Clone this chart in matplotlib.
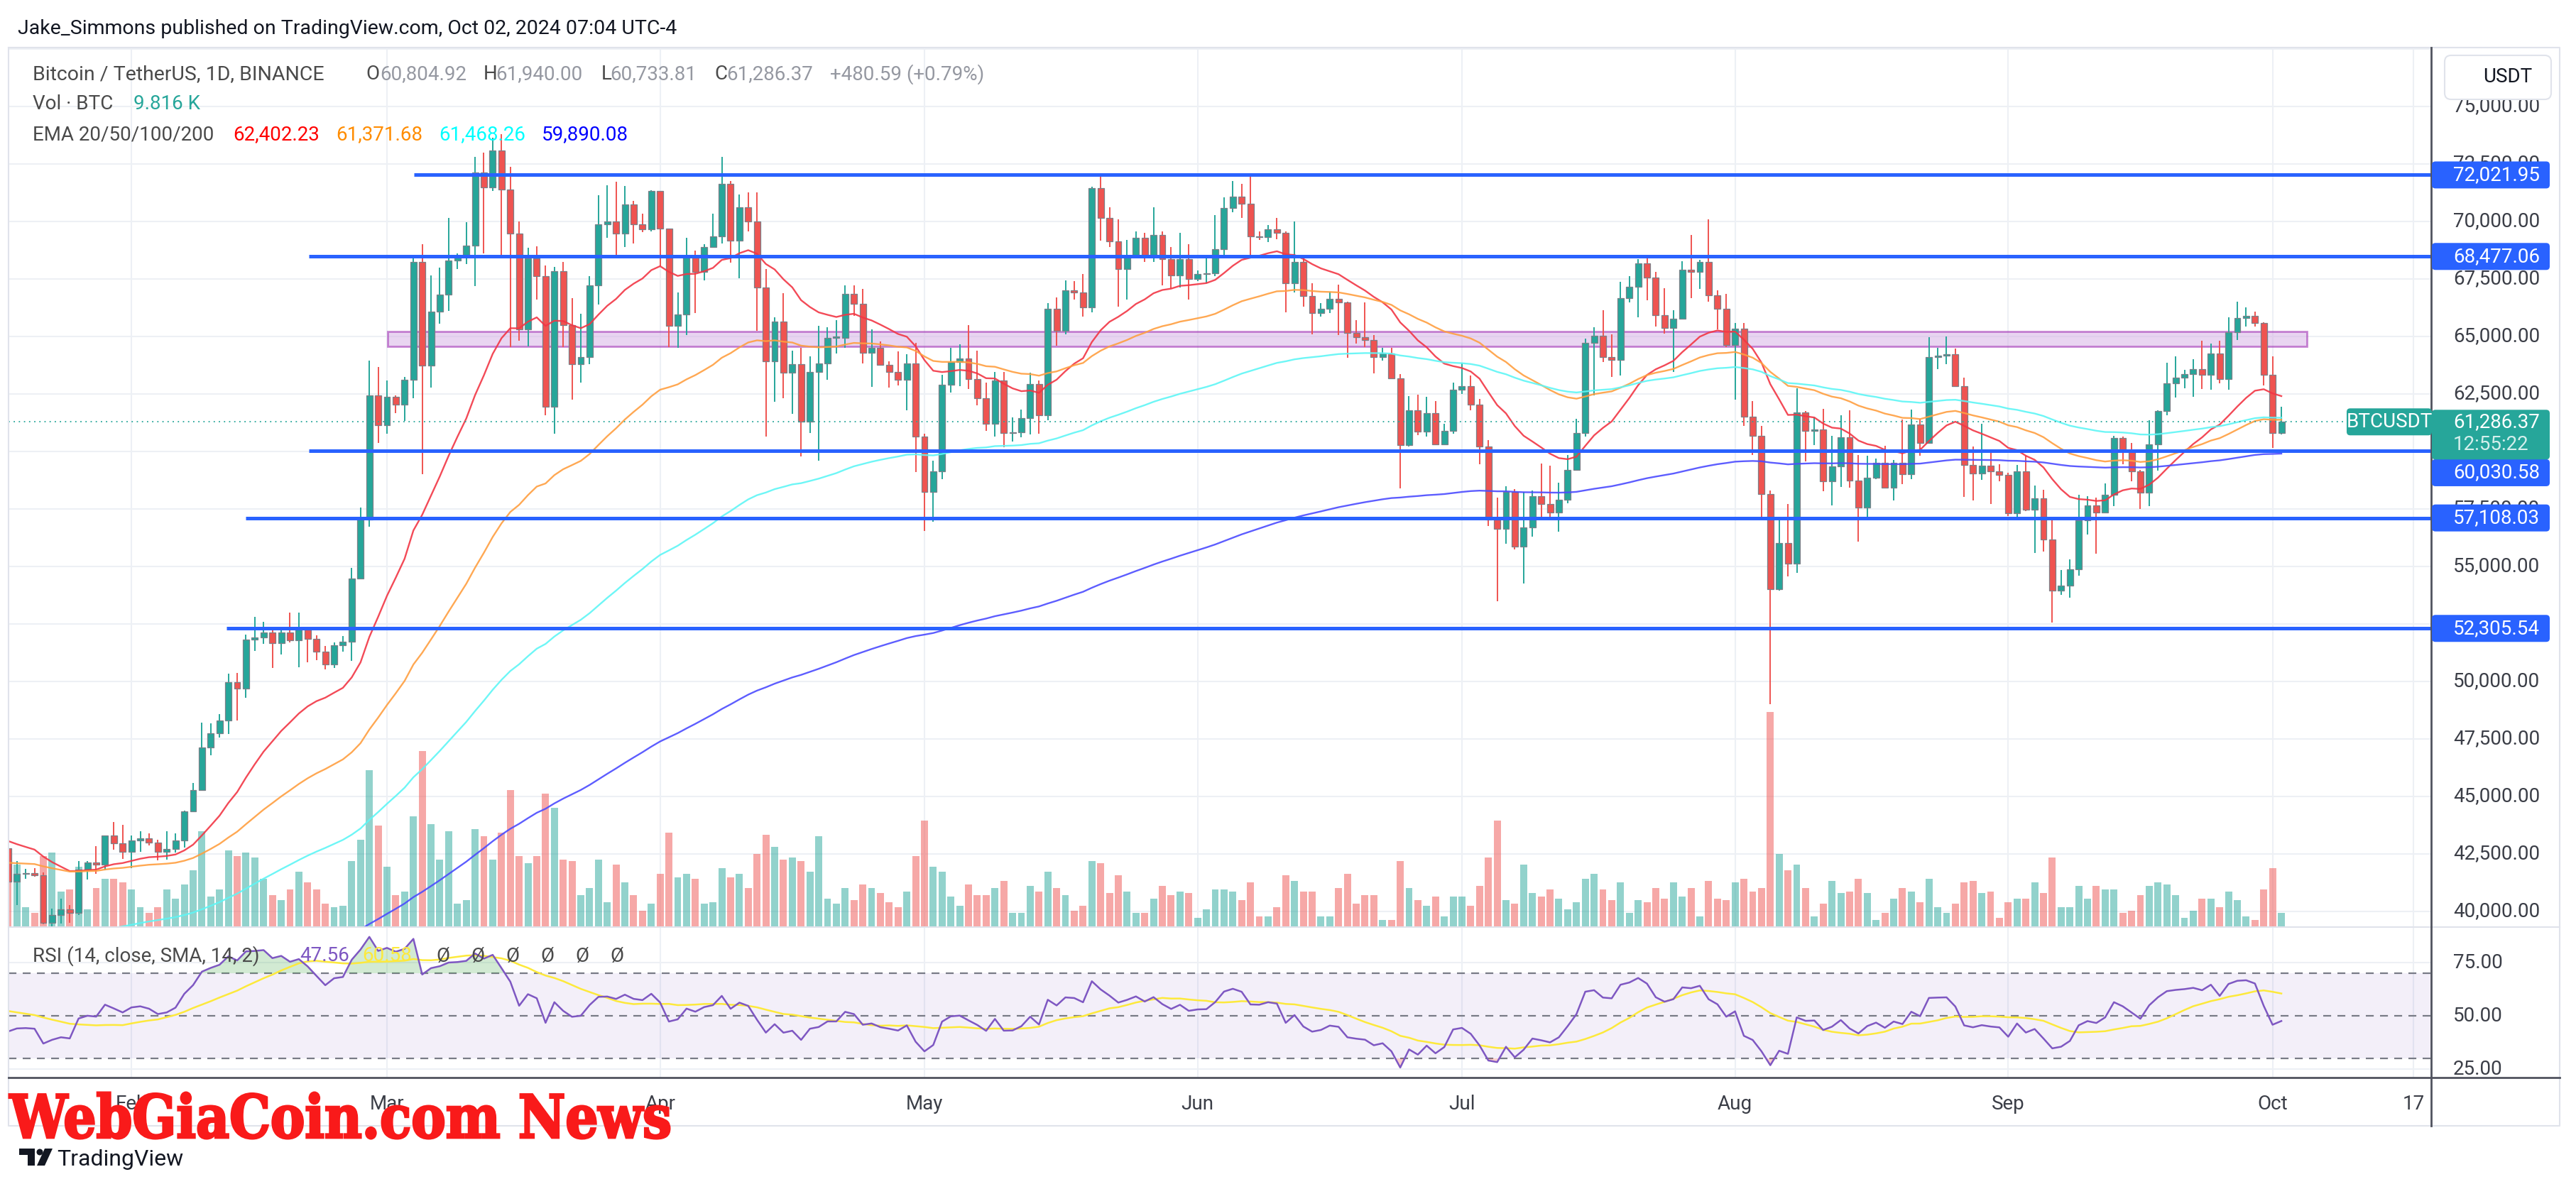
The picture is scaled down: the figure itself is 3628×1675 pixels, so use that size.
"""BTCUSDT 1D chart, TradingView style: candles, EMA 20/50/100/200, key levels, volume, RSI."""
import matplotlib
matplotlib.use('Agg')
import matplotlib.pyplot as plt
from matplotlib.patches import Rectangle, FancyBboxPatch, PathPatch, Polygon, Circle
from matplotlib.textpath import TextPath
from matplotlib.font_manager import FontProperties
from matplotlib.transforms import Affine2D
import numpy as np

W, H = 3628, 1675
UP, DOWN = '#26a69a', '#ef5350'
GRID = '#edf0f5'
FONT = ['Roboto', 'DejaVu Sans']

# ---- daily bars, Jan 18 2024 .. Oct 02 2024 (open = previous close) ----
first_open = 42740
closes = [
    # Jan 18-31
    41280, 41620, 41660, 41580, 39500, 39850, 40080, 39930, 41820, 42120, 42030, 43300, 42950, 42580,
    # Feb
    43080, 43190, 43000, 42580, 42710, 43090, 44340, 45290, 47130, 47750, 48290, 49960, 49700, 51810, 51920,
    52140, 51660, 52120, 51780, 52260, 51850, 51300, 50730, 51570, 51730, 54480, 57040, 62430, 61130,
    # Mar
    62390, 62030, 63130, 68250, 63720, 66070, 66830, 68300, 68500, 68960, 72120, 71480, 73100, 71400, 69480,
    65300, 68390, 67610, 61940, 67840, 65500, 63800, 64100, 67210, 69880, 69990, 69460, 70740, 69890, 69650, 71330,
    # Apr
    69700, 65460, 65960, 68490, 67820, 68900, 69360, 71620, 69150, 70630, 70010, 67120, 63920, 65660, 63420,
    63800, 61280, 63470, 63820, 64940, 64940, 66840, 66410, 64280, 64500, 63770, 63460, 63120, 63840, 60640,
    # May
    58250, 59120, 62890, 63890, 64030, 63160, 62310, 61190, 63070, 60790, 60820, 61450, 62930, 61580, 66210,
    65240, 67020, 66920, 66270, 71450, 70140, 69120, 67930, 68530, 69290, 68510, 69400, 68370, 67640, 68360, 67490,
    # Jun
    67710, 67750, 68800, 70570, 71080, 70760, 69340, 69310, 69650, 69510, 67320, 68240, 66750, 66010, 66190,
    66640, 66490, 65150, 64960, 64830, 64100, 64250, 63180, 60280, 61800, 60860, 61670, 60320, 60890, 62680,
    # Jul
    62850, 62030, 60200, 57040, 56640, 58230, 55850, 56700, 58050, 57720, 57330, 57890, 59200, 60800, 64720,
    65040, 64090, 63990, 66660, 67150, 68170, 67550, 65930, 65370, 65780, 67900, 67810, 68250, 66780, 66190, 64620,
    # Aug
    65350, 61500, 60690, 58160, 54020, 56030, 55120, 61710, 60880, 60950, 58710, 59350, 60610, 58740, 57560,
    58870, 59490, 58430, 59490, 59010, 61160, 60380, 64090, 64170, 64220, 62830, 59420, 59030, 59370, 59120, 58970,
    # Sep
    57300, 59130, 57480, 57970, 56160, 53950, 54160, 54880, 57020, 57650, 57340, 58130, 60570, 60000, 59130,
    58210, 60310, 61760, 62950, 63200, 63350, 63580, 63340, 64260, 63150, 65180, 65790, 65890, 65600, 63330,
    # Oct 1-2
    60804.92, 61286.37,
]
highs = [
    42930, 42200, 41860, 41870, 41700, 40130, 40550, 40280, 42200, 42200, 42840, 43300, 43880, 43750,
    43290, 43490, 43380, 43120, 43500, 43400, 44370, 45600, 48200, 48170, 48590, 50330, 50370, 52040, 52820,
    52580, 52250, 52370, 52990, 52980, 52370, 52000, 51550, 51700, 51960, 54940, 57550, 63960, 63680,
    63100, 62430, 63230, 68490, 69000, 67640, 67980, 70140, 68620, 69980, 72800, 73000, 73650, 73780, 72360,
    70000, 68850, 68920, 68100, 68030, 68240, 66650, 65980, 67620, 71150, 71560, 71730, 71550, 70900, 70350, 71370,
    71340, 69700, 66900, 69290, 68720, 69000, 70330, 72800, 71760, 71170, 71260, 71260, 67930, 65830, 66880,
    64380, 64490, 64130, 65450, 65390, 65720, 67230, 67210, 67070, 65300, 64790, 63920, 64350, 64230, 64730,
    60780, 59600, 63330, 64500, 64650, 65500, 64390, 62980, 63450, 63470, 61490, 61820, 63420, 63100, 66440,
    66700, 67450, 67400, 67700, 71500, 71980, 70620, 70080, 69200, 69570, 69520, 70610, 69560, 68900, 69500, 69000,
    67860, 68400, 70270, 71060, 71750, 71630, 71950, 69560, 69850, 70150, 69560, 69990, 68450, 67300, 66450,
    66950, 67250, 66500, 65720, 66480, 65070, 64520, 64490, 63370, 62400, 62480, 62370, 62180, 61200, 63000,
    63860, 63290, 62280, 60500, 58000, 58480, 58370, 58250, 58300, 59480, 59390, 58650, 59850, 61420, 64900,
    65390, 66130, 65100, 67390, 67630, 68370, 68480, 67800, 67100, 66140, 68260, 69400, 68320, 70080, 66990, 66860,
    65590, 65600, 62200, 61100, 58300, 57050, 57730, 62740, 61750, 61470, 61860, 60680, 61580, 61800, 59850,
    59800, 59700, 60260, 59620, 61400, 61820, 61410, 64960, 64520, 65000, 64480, 63210, 60230, 61190, 59950, 59450,
    59060, 59420, 59810, 58520, 58330, 56990, 54850, 55300, 58110, 58040, 57990, 58600, 60670, 60660, 60380,
    59210, 61350, 61790, 63870, 64130, 63560, 64000, 64820, 64690, 64810, 65840, 66500, 66260, 66080, 65620,
    64130, 61940.00,
]
lows = [
    40700, 40280, 41420, 41500, 39430, 38550, 39480, 39500, 39830, 41390, 41620, 41800, 42680, 42280,
    41880, 42580, 42880, 42220, 42260, 42570, 42790, 44330, 45240, 46800, 47560, 47700, 48300, 49290, 51330,
    51620, 50600, 51180, 51710, 50620, 50830, 50920, 50520, 50580, 51280, 50900, 54450, 56720, 60360,
    60780, 61650, 61320, 62300, 59000, 62790, 65560, 66100, 67920, 68150, 67190, 68620, 71330, 68550, 64530,
    64800, 64560, 66600, 61560, 60780, 64530, 62260, 63000, 63800, 66380, 69280, 68380, 68900, 69050, 69550, 69560,
    68060, 64540, 64490, 65060, 66010, 67450, 68850, 69040, 68210, 67520, 69560, 65250, 60660, 62160, 62300,
    61620, 59770, 60800, 59600, 63110, 64250, 64500, 65900, 63820, 62800, 63750, 62790, 62880, 61800, 59100,
    56550, 56940, 58810, 62550, 62830, 62700, 62000, 60880, 60650, 60190, 60440, 60630, 60750, 60770, 61350,
    64600, 65100, 66600, 65850, 66060, 69160, 68900, 66300, 66600, 68510, 68230, 68230, 67220, 67100, 67130, 66600,
    67400, 67320, 67610, 68500, 70390, 70150, 68500, 69200, 69100, 69230, 66050, 66900, 66300, 65080, 65850,
    66030, 65070, 64060, 64690, 64530, 63380, 63940, 63210, 58400, 60220, 60700, 60640, 60380, 60270, 60780,
    62490, 61780, 59430, 56770, 53490, 56000, 55740, 54260, 56280, 57150, 57050, 56520, 57760, 59220, 60640,
    62430, 63900, 63240, 63300, 66490, 65820, 66570, 65420, 65110, 63450, 65750, 66650, 67070, 66500, 65300, 64530,
    62250, 61110, 59850, 57120, 49000, 53960, 54560, 54730, 59580, 60280, 58280, 57650, 58450, 58430, 56080,
    57100, 58780, 58410, 57860, 58590, 58790, 59810, 60350, 63570, 63800, 62800, 58030, 57860, 58750, 57700, 58700,
    57200, 57130, 57410, 55600, 55650, 52550, 53750, 53650, 54590, 56400, 55550, 57320, 57630, 59450, 58700,
    57490, 57610, 59180, 61570, 62350, 62760, 62360, 62700, 62690, 62950, 62670, 64830, 65420, 65420, 62860,
    60160, 60733.81,
]
volumes = [
    30, 35, 11, 8, 40, 42, 20, 21, 34, 10, 22, 27, 27, 25,
    21, 11, 8, 11, 21, 16, 24, 32, 54, 17, 21, 43, 40, 42, 39, 27, 18, 15, 21, 31, 25, 21, 13, 11, 12, 37, 49, 88, 57,
    34, 18, 20, 62, 99, 58, 38, 54, 13, 15, 55, 51, 38, 53, 77, 40, 36, 40, 75, 67, 38, 37, 18, 22, 38, 14, 35, 25, 18, 9, 13,
    30, 53, 28, 30, 27, 13, 14, 33, 28, 30, 22, 41, 52, 45, 38, 39, 37, 31, 51, 16, 13, 22, 15, 24, 22, 19, 14, 11, 20, 40,
    60, 34, 31, 17, 12, 24, 18, 18, 22, 26, 8, 8, 23, 20, 31, 22, 18, 9, 12, 37, 36, 19, 29, 20, 8, 8, 16, 23, 18, 20, 19,
    5, 10, 21, 21, 20, 15, 25, 6, 6, 11, 29, 26, 20, 20, 6, 6, 22, 30, 13, 18, 18, 4, 4, 37, 22, 15, 12, 17, 6, 17,
    17, 12, 23, 39, 60, 15, 13, 35, 19, 17, 21, 16, 10, 14, 27, 30, 21, 15, 25, 8, 15, 14, 22, 16, 25, 17, 22, 6, 26, 16, 15,
    25, 27, 20, 22, 121, 41, 32, 35, 22, 6, 13, 26, 19, 20, 27, 19, 4, 8, 16, 22, 20, 14, 27, 11, 8, 13, 25, 26, 19, 20, 5,
    14, 16, 16, 25, 19, 39, 11, 11, 23, 16, 23, 21, 21, 8, 9, 18, 23, 25, 24, 18, 5, 9, 16, 16, 11, 20, 15, 6, 4, 21,
    33, 8,
]
assert len(closes) == len(highs) == len(lows) == len(volumes) == 259

first_day = 17                      # day-of-year index, Jan 1 2024 = 0
days = np.arange(first_day, first_day + len(closes))
closes = np.array(closes, float)
opens = np.concatenate([[first_open], closes[:-1]])
highs = np.maximum.reduce([np.array(highs, float), opens, closes])
lows = np.minimum.reduce([np.array(lows, float), opens, closes])

# indicator seeds (values of the lines at the left edge of the chart)
ema_periods = [20, 50, 100, 200]
ema_seeds = [43250, 42150, 38650, 35300]
ema_colors = ['#f23645', '#ff9f40', '#5ef6f6', '#4b4bff']
rsi_seed_gain, rsi_seed_loss, rsi_ma_seed = 470, 520, 53

# drawings
level_prices = [72021.95, 68477.06, 60030.58, 57108.03, 52305.54]
level_starts = [63.1, 51.1, 51.1, 44.0, 41.8]
label_shift_px = [0, 0, 31, 0, 0]
zone_lo, zone_hi, zone_x0, zone_x1 = 64570, 65215, 60.1, 277.9

month_days = [31, 60, 91, 121, 152, 182, 213, 244, 274, 290]
month_labels = ['Feb', 'Mar', 'Apr', 'May', 'Jun', 'Jul', 'Aug', 'Sep', 'Oct', '17']

legend_ohlc = [('O', '60,804.92'), ('H', '61,940.00'), ('L', '60,733.81'), ('C', '61,286.37')]
legend_ema = ['62,402.23', '61,371.68', '61,468.26', '59,890.08']
legend_ema_colors = ['#ff0000', '#ff8c00', '#00ffff', '#0000ff']
last_price, countdown = 61286.37, '12:55:22'


def ema(vals, n, seed):
    a = 2.0 / (n + 1)
    out, e = [], seed
    for v in vals:
        e = a * v + (1 - a) * e
        out.append(e)
    return np.array(out)


def rsi_wilder(vals, prev, g, l, n=14):
    out = []
    for c in vals:
        d = c - prev
        prev = c
        g = (g * (n - 1) + max(d, 0)) / n
        l = (l * (n - 1) + max(-d, 0)) / n
        out.append(100 - 100 / (1 + g / l))
    return np.array(out)


rsi = rsi_wilder(closes, first_open, rsi_seed_gain, rsi_seed_loss)
padded = np.concatenate([[rsi_ma_seed] * 13, rsi])
rsi_ma = np.convolve(padded, np.ones(14) / 14, mode='valid')

# ---- figure / panes ----
fig = plt.figure(figsize=(W / 100, H / 100), dpi=100)
fig.patch.set_facecolor('white')


def rect(x0, y0, x1, y1):
    return [x0 / W, 1 - y1 / H, (x1 - x0) / W, (y1 - y0) / H]


PX0, PX1, MY0, MY1, RY1 = 12, 3424, 67, 1306, 1518
XLIM = (17.05, 292)
ax_vol = fig.add_axes(rect(PX0, MY0, PX1, MY1), zorder=1)
ax = fig.add_axes(rect(PX0, MY0, PX1, MY1), zorder=2)
ax_rsi = fig.add_axes(rect(PX0, MY1, PX1, RY1), zorder=2)
ov = fig.add_axes([0, 0, 1, 1], zorder=5)
ov.set_xlim(0, W)
ov.set_ylim(H, 0)
ov.axis('off')
ov.patch.set_alpha(0)

for a in (ax_vol, ax, ax_rsi):
    a.set_xlim(*XLIM)
    a.set_xticks([])
    a.set_yticks([])
    for s in a.spines.values():
        s.set_visible(False)
ax.patch.set_visible(False)
ax.set_ylim(39320, 77560)
ax_vol.set_ylim(0, 494)
ax_rsi.set_ylim(21, 91.7)

# grid (drawn on the bottom layer)
for p in np.arange(40000, 77501, 2500):
    ax_vol.plot([0, 1], [p, p], transform=ax.get_yaxis_transform(), color=GRID, lw=1.5, zorder=0)
for d in month_days:
    ax_vol.axvline(d, color=GRID, lw=1.5, zorder=0)
    ax_rsi.axvline(d, color=GRID, lw=1.5, zorder=0)
for r in (25, 75):
    ax_rsi.axhline(r, color=GRID, lw=1.5, zorder=0)

# volume
up = closes >= opens
vcols = np.where(up, UP, DOWN)
ax_vol.bar(days, volumes, width=0.8, color=vcols, alpha=0.5, linewidth=0, zorder=1)

# zone + candles + emas + levels
ax.add_patch(Rectangle((zone_x0, zone_lo), zone_x1 - zone_x0, zone_hi - zone_lo,
                       facecolor='#d7b3e6', alpha=0.55, edgecolor='#9c27b0', lw=2, zorder=2))
ax.vlines(days, lows, highs, colors=vcols, lw=1.4, zorder=3)
body_lo = np.minimum(opens, closes)
body_h = np.maximum(np.abs(closes - opens), 45)
ax.bar(days, body_h, bottom=body_lo, width=0.72, color=vcols,
       edgecolor='#7b8088', linewidth=0.9, zorder=4)
for n, seed, col in zip(ema_periods, ema_seeds, ema_colors):
    ax.plot(days, ema(closes, n, seed), color=col, lw=1.7, alpha=0.9, zorder=5)
ax.hlines(level_prices, level_starts, XLIM[1], color='#2962ff', lw=3.6, zorder=6)
ax.axhline(last_price, color=UP, lw=1.3, ls=(0, (1, 3)), zorder=6)

# RSI pane
ax_rsi.axhspan(30, 70, color='#7e57c2', alpha=0.09, lw=0, zorder=1)
for r in (70, 50, 30):
    ax_rsi.axhline(r, color='#787b86', lw=1.6, ls=(0, (5, 4)), zorder=2)
ax_rsi.fill_between(days, 70, rsi, where=rsi > 70, interpolate=True, color='#4caf50', alpha=0.25, lw=0, zorder=2)
ax_rsi.fill_between(days, 30, rsi, where=rsi < 30, interpolate=True, color='#f44336', alpha=0.25, lw=0, zorder=2)
ax_rsi.plot(days, rsi_ma, color='#fde93b', lw=1.8, zorder=3)
ax_rsi.plot(days, rsi, color='#7e57c2', lw=1.8, zorder=4)

ax_rsi.set_xticks(month_days)
ax_rsi.set_xticklabels(month_labels, fontsize=20, family=FONT, color='#3b3e47')
ax_rsi.tick_params(axis='x', length=0, pad=17)


def py(price, a=ax):
    return H - a.transData.transform((XLIM[0], price))[1]


def txt(x, y, s, color, size=20, ha='left', z=6, **kw):
    ov.text(x, y, s, color=color, fontsize=size, family=FONT, ha=ha, va='center', zorder=z, **kw)


# frame lines
ov.plot([12, 3605, 3605, 12, 12], [67, 67, 1586, 1586, 67], color='#e0e3eb', lw=1.5, zorder=1)
ov.plot([12, 3605], [1306, 1306], color='#e0e3eb', lw=1.5, zorder=1)
ov.plot([3424, 3424], [67, 1586], color='#50535e', lw=2, zorder=2)
ov.plot([12, 3605], [1518, 1518], color='#50535e', lw=2, zorder=2)

# price scale
for p in np.arange(40000, 75001, 2500):
    txt(3455, py(p), f'{p:,.2f}', '#3b3e47', z=2)
for r in (75, 50, 25):
    txt(3455, py(r, ax_rsi), f'{r:.2f}', '#3b3e47', z=2)
for p, sh in zip(level_prices, label_shift_px):
    y = py(p) + sh
    ov.add_patch(FancyBboxPatch((3425, y - 19), 166, 38, boxstyle='round,pad=0,rounding_size=5',
                                fc='#2962ff', ec='none', zorder=3))
    txt(3455, y, f'{p:,.2f}', 'white', z=4)
yp = py(last_price)
ov.add_patch(FancyBboxPatch((3425, yp - 17), 166, 70, boxstyle='round,pad=0,rounding_size=5',
                            fc=UP, ec='none', zorder=3))
txt(3455, yp, f'{last_price:,.2f}', 'white', z=4)
txt(3455, yp + 32, countdown, '#d4efec', z=4)
ov.add_patch(FancyBboxPatch((3305, yp - 19), 120, 38, boxstyle='round,pad=0,rounding_size=5',
                            fc=UP, ec='none', zorder=3))
txt(3365, yp, 'BTCUSDT', 'white', ha='center', z=4)
ov.add_patch(FancyBboxPatch((3443, 78), 150, 62, boxstyle='round,pad=0,rounding_size=9',
                            fc='white', ec='#e0e3eb', lw=1.5, zorder=3))
txt(3497, 109, 'USDT', '#131722', z=4)

# header + legends
txt(25, 40, 'Jake_Simmons published on TradingView.com, Oct 02, 2024 07:04 UTC-4', '#131722', size=20.5)
txt(46, 105, 'Bitcoin / TetherUS, 1D, BINANCE', '#4a4a4a', size=20.5)
for (k, v), xk, xv in zip(legend_ohlc, [515, 681, 847, 1006], [535, 698, 859, 1023]):
    txt(xk, 105, k, '#4a4a4a')
    txt(xv, 105, v, '#9598a1')
txt(1169, 105, '+480.59 (+0.79%)', '#9598a1')
txt(46, 146, 'Vol · BTC', '#4a4a4a')
txt(188, 146, '9.816 K', UP)
txt(46, 190, 'EMA 20/50/100/200', '#4a4a4a')
for v, c, x in zip(legend_ema, legend_ema_colors, [328, 473, 618, 763]):
    txt(x, 190, v, c)

txt(46, 1347, 'RSI (14, close, SMA, 14, 2)', '#4a4a4a')
txt(422, 1347, '47.56', '#7e57c2')
txt(510, 1347, '60.58', '#fde93b')
for i in range(6):
    txt(614 + 49 * i, 1347, '\u00d8', '#4a4a4a')

# watermark
fp = FontProperties(family='DejaVu Serif', weight='bold')
tp = TextPath((0, 0), 'WebGiaCoin.com News', size=100, prop=fp)
bb = tp.get_extents()
tr = Affine2D().translate(-bb.x0, -bb.y0).scale(930 / bb.width, -65 / bb.height).translate(13, 1604)
ov.add_patch(PathPatch(tp, fc='#f91a1a', ec='#f91a1a', lw=2.2, transform=tr + ov.transData, zorder=8))

# TradingView logo
ov.add_patch(Rectangle((27, 1618), 22, 9, fc='#131722', ec='none', zorder=8))
ov.add_patch(Rectangle((39, 1618), 10, 24, fc='#131722', ec='none', zorder=8))
ov.add_patch(Circle((56, 1623), 4.5, fc='#131722', ec='none', zorder=8))
ov.add_patch(Polygon([(63, 1618), (74, 1618), (63, 1642), (52, 1642)], fc='#131722', ec='none', zorder=8))
ov.text(80, 1642, 'TradingView', color='#131722', fontsize=23, family=FONT, va='baseline', zorder=8)

fig.savefig('out.png', dpi=100, facecolor='white')
plt.close(fig)
